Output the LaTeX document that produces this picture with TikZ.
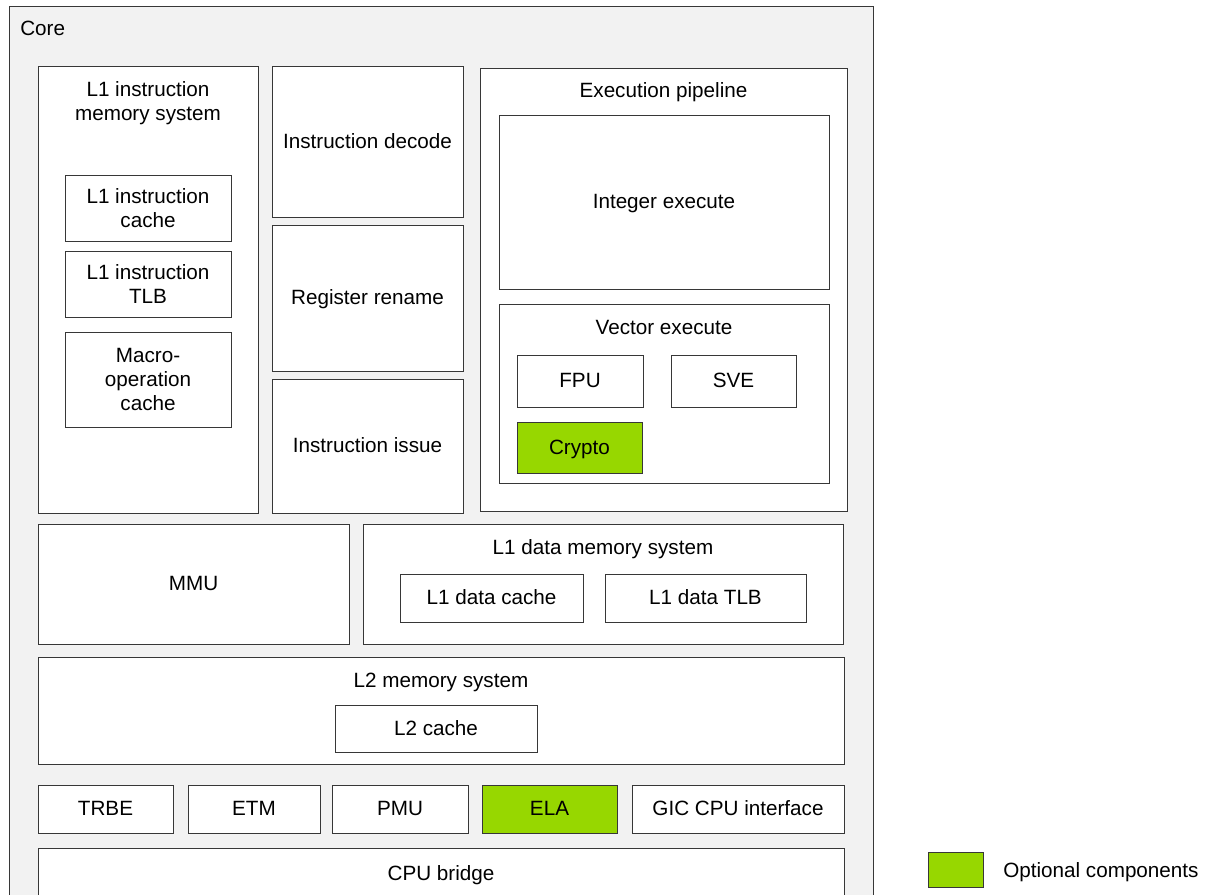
\documentclass[tikz,border=0pt]{standalone}
\usepackage{fontspec}
\setmainfont{Liberation Sans}
\definecolor{optgreen}{RGB}{151,215,0}
\definecolor{corebg}{RGB}{242,242,242}
\definecolor{edge}{RGB}{55,55,55}
\begin{document}
\begin{tikzpicture}[x=0.75pt,y=-0.75pt,
  font=\fontsize{15.5}{18}\selectfont,
  boxbase/.style={draw=edge, line width=0.75pt, fill=white, rectangle, inner sep=0pt, outer sep=0pt, align=center},
  box/.style={boxbase, text height=11.1pt, text depth=1pt},
  mbox/.style={boxbase},
  wh/.style 2 args={minimum width=#1*0.75pt, minimum height=#2*0.75pt},
  opt/.style={fill=optgreen},
  lbl/.style={inner sep=0pt, align=center, text height=11.1pt, text depth=0pt},
  mlbl/.style={inner sep=0pt, align=center}]
\useasboundingbox (0,0) rectangle (1207,894);
\clip (0,0) rectangle (1207,894);
% core
\node[boxbase, fill=corebg, wh={864}{904}] (core) at (441,458) {};
\node[lbl, anchor=west] (corelbl) at (20,28) {Core};
% L1 instruction memory system
\node[boxbase, wh={220}{447}] (l1imem) at (148,289.5) {};
\node[mlbl] (l1imemlbl) at (148,103.4) {L1 instruction\\memory system};
\node[mbox, wh={166}{66}] (l1icache) at (148,208) {L1 instruction\\cache};
\node[mbox, wh={166}{66}] (l1itlb) at (148,284) {L1 instruction\\TLB};
\node[mbox, wh={166}{95}] (mopcache) at (148,379.5) {Macro-\\operation\\cache};
% decode / rename / issue
\node[box, wh={191}{151}] (decode) at (367.5,141.5) {Instruction decode};
\node[box, wh={191}{146}] (rename) at (367.5,298) {Register rename};
\node[box, wh={191}{134}] (issue) at (367.5,446) {Instruction issue};
% execution pipeline
\node[boxbase, wh={367}{443}] (exec) at (663.5,289.5) {};
\node[lbl] (execlbl) at (663.5,90) {Execution pipeline};
\node[box, wh={330}{174}] (intexec) at (664,202) {Integer execute};
\node[boxbase, wh={330}{179}] (vecexec) at (664,393.5) {};
\node[lbl] (veclbl) at (664,327) {Vector execute};
\node[box, wh={126}{52}] (fpu) at (580,381) {FPU};
\node[box, wh={125}{52}] (sve) at (733.5,381) {SVE};
\node[box, opt, wh={125}{51}] (crypto) at (579.5,447.5) {Crypto};
% MMU and L1 data
\node[box, wh={311}{120}] (mmu) at (193.5,584) {MMU};
\node[boxbase, wh={480}{120}] (l1dmem) at (603,584) {};
\node[lbl] (l1dmemlbl) at (603,547) {L1 data memory system};
\node[box, wh={183}{48}] (l1dcache) at (491.5,598) {L1 data cache};
\node[box, wh={201}{48}] (l1dtlb) at (705.5,598) {L1 data TLB};
% L2
\node[boxbase, wh={806}{107}] (l2mem) at (441,710.5) {};
\node[lbl] (l2memlbl) at (441,680) {L2 memory system};
\node[box, wh={202}{47}] (l2cache) at (436,728.5) {L2 cache};
% bottom row
\node[box, wh={135}{48}] (trbe) at (105.5,809) {TRBE};
\node[box, wh={132}{48}] (etm) at (254,809) {ETM};
\node[box, wh={136}{48}] (pmu) at (400,809) {PMU};
\node[box, opt, wh={135}{48}] (ela) at (549.5,809) {ELA};
\node[box, wh={212}{48}] (gic) at (738,809) {GIC CPU interface};
\node[boxbase, wh={806}{62}] (bridge) at (441,879) {};
\node[lbl] (bridgelbl) at (441,873) {CPU bridge};
% legend
\node[boxbase, opt, wh={55}{35}] (legbox) at (955.5,869.5) {};
\node[lbl, anchor=west] (legtext) at (1003,870) {Optional components};
\end{tikzpicture}
\end{document}
